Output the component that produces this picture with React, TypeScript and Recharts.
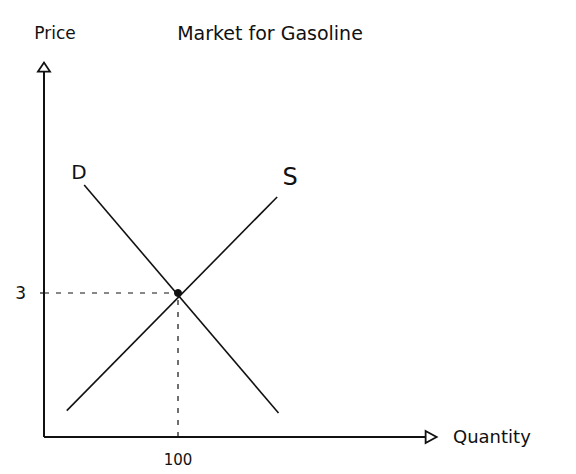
import { ComposedChart, Line, XAxis, YAxis, ReferenceLine, ReferenceDot } from "recharts";

// quantity (q) and price (p) points
const demand = [
  { q: 30, p: 5.25 },
  { q: 175, p: 0.5 },
];
const supply = [
  { q: 17, p: 0.55 },
  { q: 174, p: 5.0 },
];
const priceAxis = [
  { q: 0, p: 0 },
  { q: 0, p: 7.8 },
];
const quantityAxis = [
  { q: 0, p: 0 },
  { q: 293, p: 0 },
];
const equilibrium = { q: 100, p: 3 };
const priceTicks = [3];
const quantityTicks = [100];

const font = "'DejaVu Sans', sans-serif";
const ink = "#111";

const UpArrow = (props: any) => {
  const { cx, cy, index } = props;
  if (index !== 1) return <g key={index} />;
  return (
    <path
      key={index}
      d={`M${cx - 6},${cy + 9} L${cx},${cy} L${cx + 6},${cy + 9} Z`}
      fill="white"
      stroke={ink}
      strokeWidth={1.8}
    />
  );
};

const RightArrow = (props: any) => {
  const { cx, cy, index } = props;
  if (index !== 1) return <g key={index} />;
  return (
    <path
      key={index}
      d={`M${cx - 11},${cy - 6} L${cx},${cy} L${cx - 11},${cy + 6} Z`}
      fill="white"
      stroke={ink}
      strokeWidth={1.8}
    />
  );
};

const label = (x: number, y: number, text: string, size = 15, anchor = "middle") => (
  <div
    style={{
      position: "absolute",
      left: x,
      top: y,
      transform: anchor === "middle" ? "translate(-50%, -50%)" : "translate(0, -50%)",
      fontFamily: font,
      fontSize: size,
      color: ink,
      whiteSpace: "nowrap",
    }}
  >
    {text}
  </div>
);

export default function App() {
  return (
    <div style={{ position: "absolute", left: 0, top: 0, width: 576, height: 474, background: "white" }}>
      <ComposedChart width={576} height={474} margin={{ top: 53, right: 130, bottom: 0, left: 0 }}>
        <XAxis
          type="number"
          dataKey="q"
          domain={[0, 300]}
          ticks={quantityTicks}
          axisLine={false}
          tickLine={false}
          height={37}
          tick={{ fill: ink, fontSize: 15, fontFamily: font }}
          tickMargin={11}
        />
        <YAxis
          type="number"
          dataKey="p"
          domain={[0, 8]}
          ticks={priceTicks}
          axisLine={false}
          tickLine={{ stroke: ink, strokeWidth: 1.2 }}
          tickSize={4}
          width={44}
          tick={{ fill: ink, fontSize: 17, fontFamily: font }}
          tickMargin={14}
        />
        <ReferenceLine
          segment={[{ x: 0, y: equilibrium.p }, { x: equilibrium.q, y: equilibrium.p }]}
          stroke={ink}
          strokeDasharray="5 7"
          strokeWidth={1.2}
        />
        <ReferenceLine
          segment={[{ x: equilibrium.q, y: 0 }, { x: equilibrium.q, y: equilibrium.p }]}
          stroke={ink}
          strokeDasharray="5 7"
          strokeWidth={1.2}
        />
        <Line data={priceAxis} dataKey="p" type="linear" stroke={ink} strokeWidth={2} dot={UpArrow} activeDot={false} isAnimationActive={false} />
        <Line data={quantityAxis} dataKey="p" type="linear" stroke={ink} strokeWidth={2} dot={RightArrow} activeDot={false} isAnimationActive={false} />
        <Line data={demand} dataKey="p" type="linear" stroke={ink} strokeWidth={1.6} dot={false} activeDot={false} isAnimationActive={false} />
        <Line data={supply} dataKey="p" type="linear" stroke={ink} strokeWidth={1.6} dot={false} activeDot={false} isAnimationActive={false} />
        <ReferenceDot x={equilibrium.q} y={equilibrium.p} r={3.5} fill={ink} stroke={ink} />
      </ComposedChart>
      {label(55, 33, "Price", 17)}
      {label(270, 33, "Market for Gasoline", 19)}
      {label(79, 172, "D", 20)}
      {label(290, 177, "S", 24)}
      {label(453, 436, "Quantity", 18, "start")}
    </div>
  );
}
